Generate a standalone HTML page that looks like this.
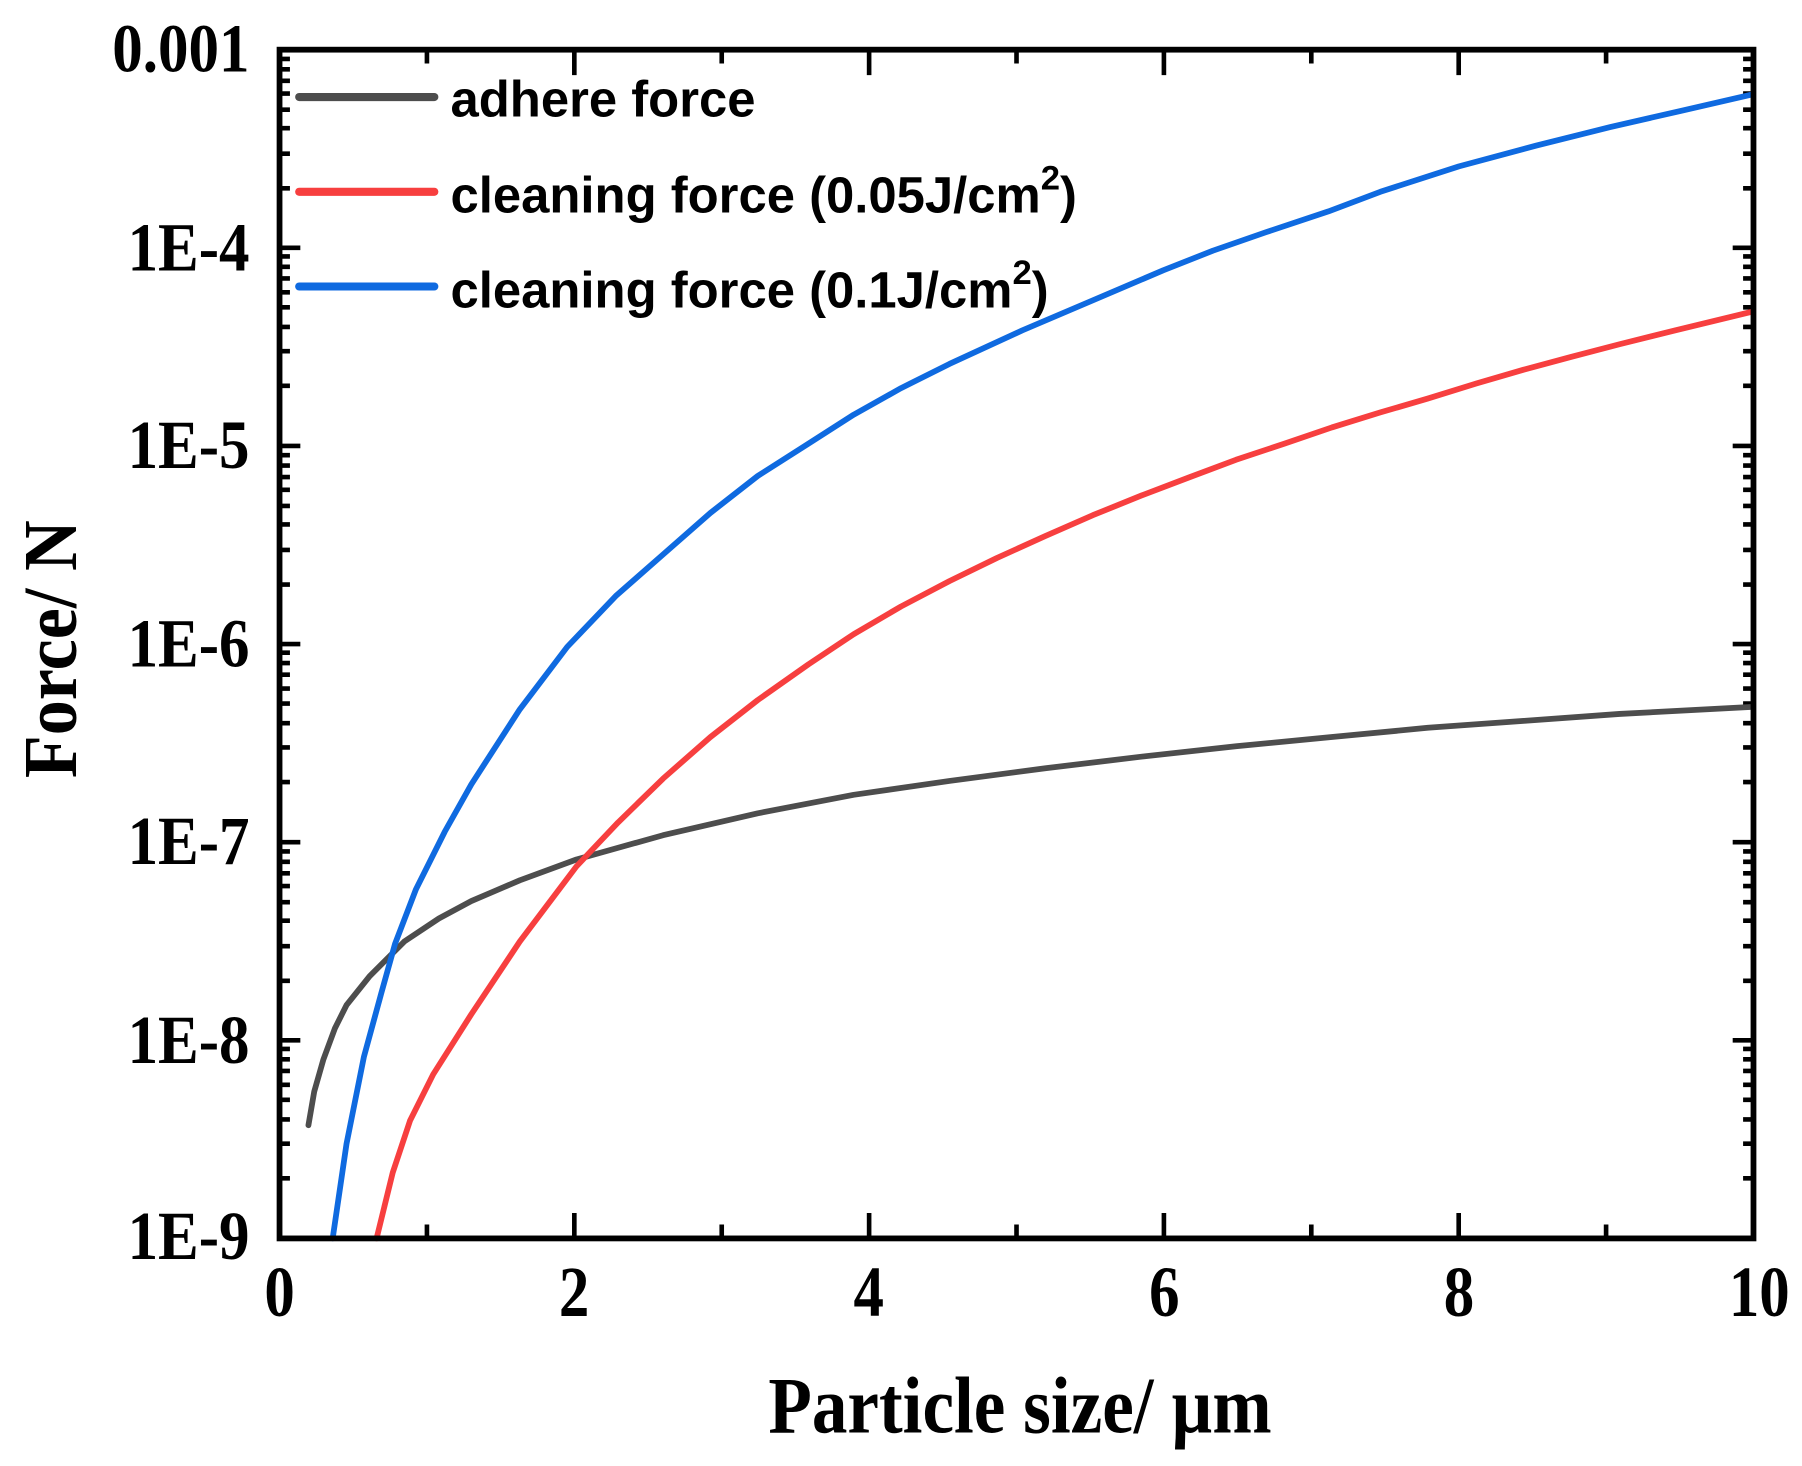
<!DOCTYPE html>
<html><head><meta charset="utf-8"><style>html,body{margin:0;padding:0;background:#fff}svg{display:block}</style></head>
<body>
<svg width="1802" height="1466" viewBox="0 0 1560 1269" preserveAspectRatio="none" xmlns="http://www.w3.org/2000/svg">
<rect width="1560" height="1269" fill="#fff"/>
<g stroke="#000" fill="none" stroke-width="4">
<path d="M497.2,1072v-22M752.4,1072v-22M1007.6,1072v-22M1262.8,1072v-22M369.6,1072v-12M624.8,1072v-12M880,1072v-12M1135.2,1072v-12M1390.4,1072v-12"/>
<path d="M497.2,43v22M752.4,43v22M1007.6,43v22M1262.8,43v22M369.6,43v12M624.8,43v12M880,43v12M1135.2,43v12M1390.4,43v12"/>
<path d="M242,214.5h18M242,386h18M242,557.5h18M242,729h18M242,900.5h18M1518,214.5h-18M1518,386h-18M1518,557.5h-18M1518,729h-18M1518,900.5h-18"/>
<path d="
M242,1020h9M242,990h9M242,969h9M242,952h9M242,939h9M242,927h9M242,917h9M242,908h9
M242,849h9M242,819h9M242,797h9M242,781h9M242,767h9M242,756h9M242,746h9M242,737h9
M242,677h9M242,647h9M242,626h9M242,609h9M242,596h9M242,584h9M242,574h9M242,565h9
M242,506h9M242,476h9M242,454h9M242,438h9M242,424h9M242,413h9M242,403h9M242,394h9
M242,334h9M242,304h9M242,283h9M242,266h9M242,253h9M242,241h9M242,231h9M242,222h9
M242,163h9M242,133h9M242,111h9M242,95h9M242,81h9M242,70h9M242,60h9M242,51h9
M1518,1020h-9M1518,990h-9M1518,969h-9M1518,952h-9M1518,939h-9M1518,927h-9M1518,917h-9M1518,908h-9
M1518,849h-9M1518,819h-9M1518,797h-9M1518,781h-9M1518,767h-9M1518,756h-9M1518,746h-9M1518,737h-9
M1518,677h-9M1518,647h-9M1518,626h-9M1518,609h-9M1518,596h-9M1518,584h-9M1518,574h-9M1518,565h-9
M1518,506h-9M1518,476h-9M1518,454h-9M1518,438h-9M1518,424h-9M1518,413h-9M1518,403h-9M1518,394h-9
M1518,334h-9M1518,304h-9M1518,283h-9M1518,266h-9M1518,253h-9M1518,241h-9M1518,231h-9M1518,222h-9
M1518,163h-9M1518,133h-9M1518,111h-9M1518,95h-9M1518,81h-9M1518,70h-9M1518,60h-9M1518,51h-9"/>
</g>
<g fill="none" stroke-width="5" stroke-linejoin="round" stroke-linecap="round">
<polyline stroke="#4d4d4d" points="267,974 272,945 280,917 290,890 300,870 320,845 350,815 380,795 408,780 450,762 499,744 574,723 656,704 739,688 822,676 905,665 988,655 1070,646 1153,638 1236,630 1319,624 1402,618 1515,612"/>
<polyline stroke="#f73f3f" points="326,1072 340,1015 355,970 375,930 408,878 450,815 499,750 535,712 574,674 615,638 656,606 700,575 739,549 780,525 822,503 863,483 905,464 946,446 988,429 1030,413 1070,398 1112,384 1153,370 1195,357 1236,345 1278,332 1319,320 1360,309 1402,298 1450,286 1516,270"/>
<polyline stroke="#0f6ae0" points="288,1072 300,990 315,915 330,860 342,817 360,770 385,720 408,679 450,614 491,560 533,516 574,480 615,444 656,412 700,384 739,359 780,336 822,315 885,286 946,260 1007,234 1050,217 1096,201 1150,183 1195,166 1263,144 1330,126 1394,110 1455,96 1516,82"/>
</g>
<rect x="242" y="43" width="1276" height="1029" fill="none" stroke="#000" stroke-width="5"/>
<g stroke-width="7" stroke-linecap="round">
<line x1="259" y1="84" x2="376" y2="84" stroke="#4d4d4d"/>
<line x1="259" y1="166" x2="376" y2="166" stroke="#f73f3f"/>
<line x1="259" y1="248" x2="376" y2="248" stroke="#0f6ae0"/>
</g>
<g font-family="Liberation Sans, sans-serif" font-weight="bold" font-size="44">
<text x="390" y="101">adhere force</text>
<text x="390" y="184">cleaning force (0.05J/cm<tspan font-size="30" dy="-20">2</tspan><tspan dy="20">)</tspan></text>
<text x="390" y="266">cleaning force (0.1J/cm<tspan font-size="30" dy="-20">2</tspan><tspan dy="20">)</tspan></text>
</g>
<g font-family="Liberation Serif, serif" font-weight="bold" font-size="60" text-anchor="end">
<text transform="translate(216,62) scale(0.88,1)">0.001</text>
<text transform="translate(216,234) scale(0.88,1)">1E-4</text>
<text transform="translate(216,405) scale(0.88,1)">1E-5</text>
<text transform="translate(216,577) scale(0.88,1)">1E-6</text>
<text transform="translate(216,748) scale(0.88,1)">1E-7</text>
<text transform="translate(216,920) scale(0.88,1)">1E-8</text>
<text transform="translate(216,1090) scale(0.88,1)">1E-9</text>
</g>
<g font-family="Liberation Serif, serif" font-weight="bold" font-size="62" text-anchor="middle">
<text transform="translate(242,1139) scale(0.85,1)">0</text>
<text transform="translate(497,1139) scale(0.85,1)">2</text>
<text transform="translate(752,1139) scale(0.85,1)">4</text>
<text transform="translate(1008,1139) scale(0.85,1)">6</text>
<text transform="translate(1263,1139) scale(0.85,1)">8</text>
<text transform="translate(1523,1139) scale(0.85,1)">10</text>
<text transform="translate(883,1240) scale(0.88,1)" font-size="70">Particle size/ µm</text>
<text transform="translate(66,562) rotate(-90) scale(0.92,1)" font-size="66">Force/ N</text>
</g>
</svg>
</body></html>
